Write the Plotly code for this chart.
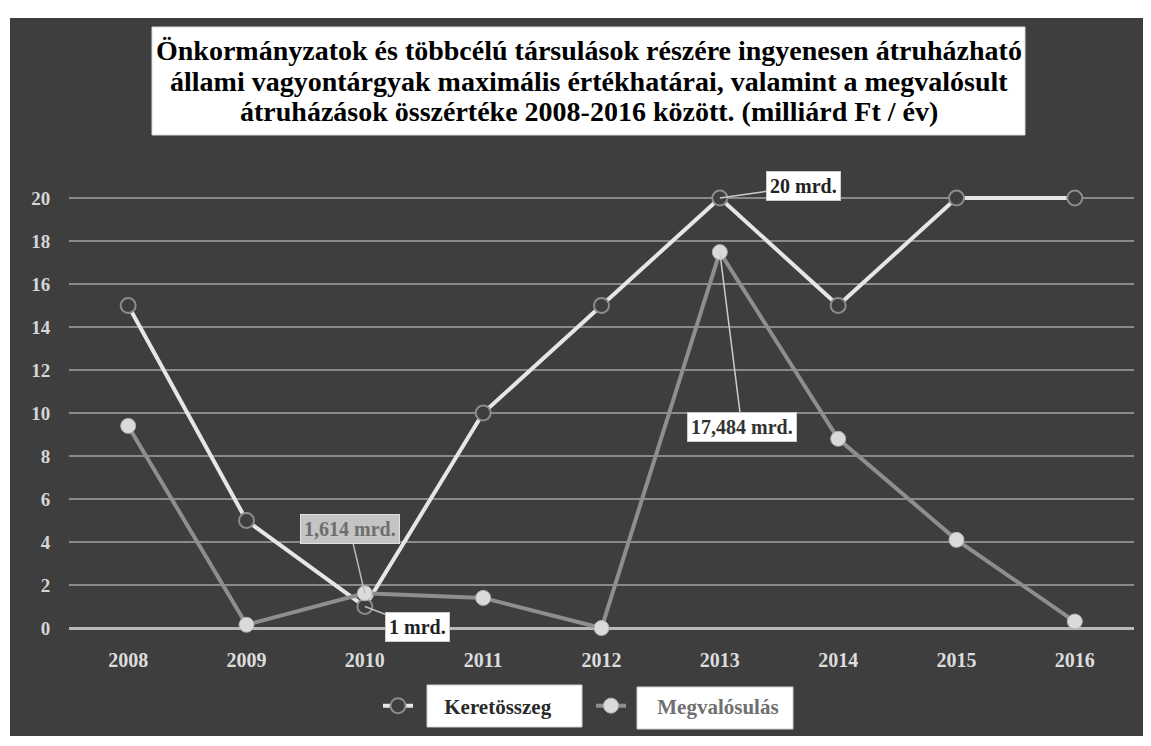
import plotly.graph_objects as go

years = ["2008", "2009", "2010", "2011", "2012", "2013", "2014", "2015", "2016"]
keret = [15, 5, 1, 10, 15, 20, 15, 20, 20]
megval = [9.4, 0.15, 1.614, 1.4, 0, 17.484, 8.8, 4.1, 0.3]
y_ticks = [0, 2, 4, 6, 8, 10, 12, 14, 16, 18, 20]

title_lines = [
    "Önkormányzatok és többcélú társulások részére ingyenesen átruházható",
    "állami vagyontárgyak maximális értékhatárai, valamint a megvalósult",
    "átruházások összértéke 2008-2016 között. (milliárd Ft / év)",
]

# page has an 8px body margin; reference pixel coords are page coords
OFF = 8
W_FIG, H_FIG = 1151 - OFF, 746 - OFF
L, R, T, B = 69, 1134, 155, 642      # plot area in page pixels
PW, PH = R - L, B - T

def px(x):
    return (x - L) / PW

def py(y):
    return (B - y) / PH

BG = "#3e3e3e"
SERIF = "Liberation Serif, DejaVu Serif, serif"
NB = "\u00a0" * 5

fig = go.Figure()
fig.add_trace(go.Scatter(
    x=years, y=keret, name=NB + "Keretösszeg", mode="lines+markers",
    line=dict(color="#e6e6e6", width=4),
    marker=dict(size=15, color=BG, line=dict(color="#8c8c8c", width=2)),
))
fig.add_trace(go.Scatter(
    x=years, y=megval, name=NB + "<span style='color:#707070'>Megvalósulás</span>",
    mode="lines+markers",
    line=dict(color="#8e8e8e", width=4),
    marker=dict(size=15, color="#dadada", line=dict(color="#b0b0b0", width=1)),
))

shapes = [
    dict(type="rect", xref="paper", yref="paper", x0=px(10), x1=px(1151), y0=py(736), y1=py(18),
         fillcolor=BG, line=dict(width=0), layer="below"),
    dict(type="rect", xref="paper", yref="paper", x0=px(152), x1=px(1025), y0=py(135), y1=py(27),
         fillcolor="white", line=dict(color="#d8d8d8", width=1), layer="above"),
    dict(type="rect", xref="paper", yref="paper", x0=px(427), x1=px(582), y0=py(727), y1=py(685),
         fillcolor="white", line=dict(color="#cfcfcf", width=1), layer="above"),
    dict(type="rect", xref="paper", yref="paper", x0=px(637), x1=px(793), y0=py(729), y1=py(687),
         fillcolor="white", line=dict(color="#cfcfcf", width=1), layer="above"),
]

i2013 = years.index("2013")
i2010 = years.index("2010")

def label(text, xi, yv, ax, ay, bg, fg, border, acolor):
    return dict(text="<b>%s</b>" % text, x=xi, y=yv, xref="x", yref="y", ax=ax, ay=ay,
                showarrow=True, arrowhead=0, arrowwidth=1.5, arrowcolor=acolor,
                bgcolor=bg, bordercolor=border, borderpad=3,
                font=dict(family=SERIF, size=20, color=fg))

annotations = []
for line_text, yc in zip(title_lines, [51, 81, 111]):
    annotations.append(dict(text="<b>%s</b>" % line_text, xref="paper", yref="paper",
                            x=px(589), y=py(yc), xanchor="center", yanchor="middle",
                            showarrow=False,
                            font=dict(family=SERIF, size=28, color="black")))
annotations += [
    label("20 mrd.", i2013, keret[i2013], 84, -12, "white", "#222222", "#cccccc", "#cccccc"),
    label("17,484 mrd.", i2013, megval[i2013], 22, 175, "white", "#333333", "#cccccc", "#cccccc"),
    label("1,614 mrd.", i2010, megval[i2010], -15, -64, "#c4c4c4", "#6e6e6e", "#e0e0e0", "#bbbbbb"),
    label("1 mrd.", i2010, keret[i2010], 53, 20, "white", "#222222", "#cccccc", "#bbbbbb"),
]

y_min = -(B - 628) / 21.5
y_max = (628 - T) / 21.5

fig.update_layout(
    width=W_FIG, height=H_FIG,
    margin=dict(l=L - OFF, r=W_FIG - (R - OFF), t=T - OFF, b=H_FIG - (B - OFF), pad=0),
    paper_bgcolor="white", plot_bgcolor="rgba(0,0,0,0)",
    showlegend=True,
    legend=dict(orientation="h", x=px(378), y=py(706), xanchor="left", yanchor="middle",
                bgcolor="rgba(0,0,0,0)", borderwidth=0,
                entrywidth=168, entrywidthmode="pixels",
                font=dict(family=SERIF, size=21, color="#2a2a2a", weight="bold")),
    xaxis=dict(type="category", range=[-0.5, 8.5], showgrid=False, zeroline=False,
               showline=False, ticks="outside", ticklen=0, tickcolor="rgba(0,0,0,0)",
               tickfont=dict(family=SERIF, size=20, color="#dcdcdc", weight="bold")),
    yaxis=dict(range=[y_min, y_max], tickvals=y_ticks, showgrid=True, gridcolor="#8a8a8a",
               gridwidth=1.5, zeroline=True, zerolinecolor="#b8b8b8", zerolinewidth=2.5,
               showline=False, ticks="outside", ticklen=14, tickcolor="rgba(0,0,0,0)",
               tickfont=dict(family=SERIF, size=19, color="#d6d6d6", weight="bold")),
    shapes=shapes, annotations=annotations,
)

fig.write_html("out.html")
